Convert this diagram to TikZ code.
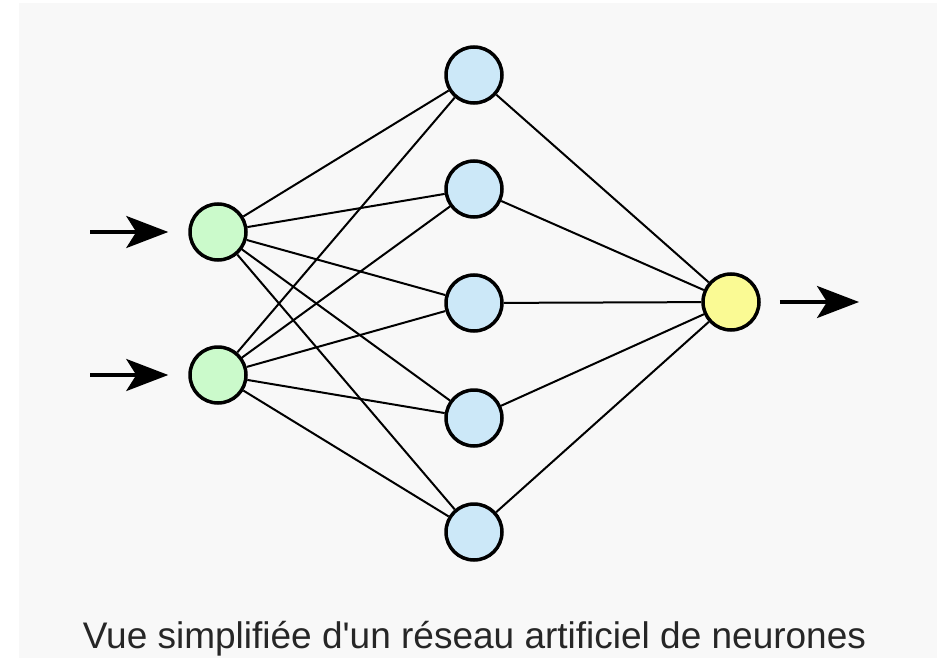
\documentclass[tikz,border=0pt]{standalone}
\usepackage{fontspec}
\setmainfont{Liberation Sans}
\usetikzlibrary{arrows.meta}
\definecolor{bggray}{HTML}{F8F8F8}
\definecolor{ingreen}{HTML}{CBFACB}
\definecolor{hidblue}{HTML}{CCE8F8}
\definecolor{outyellow}{HTML}{FAFA94}
\definecolor{textgray}{HTML}{262626}
\tikzset{
  neuron/.style={circle, draw=black, line width=3.5pt, minimum size=56pt, inner sep=0pt},
  inneuron/.style={neuron, fill=ingreen},
  hidneuron/.style={neuron, fill=hidblue},
  outneuron/.style={neuron, fill=outyellow},
  link/.style={line width=2pt, black},
  flow/.style={line width=3.5pt, black, -{Stealth[length=42pt, width=32pt, inset=10pt]}},
}
\begin{document}
\begin{tikzpicture}[x=1pt, y=-1pt]
\useasboundingbox (0,0) rectangle (942,658);
\fill[white] (0,0) rectangle (942,658);
\fill[bggray] (19,3) rectangle (937,658);

\node[inneuron] (i1) at (218,232) {};
\node[inneuron] (i2) at (218,375) {};

\node[hidneuron] (h1) at (474,75) {};
\node[hidneuron] (h2) at (474,189) {};
\node[hidneuron] (h3) at (474,303) {};
\node[hidneuron] (h4) at (474,418) {};
\node[hidneuron] (h5) at (474,532) {};

\node[outneuron] (o) at (731,302) {};

\foreach \i in {i1,i2}{
  \foreach \h in {h1,h2,h3,h4,h5}{
    \draw[link] (\i) -- (\h);
  }
}
\foreach \h in {h1,h2,h3,h4,h5}{
  \draw[link] (\h) -- (o);
}

\coordinate (a1) at (90,232);
\coordinate (a2) at (90,375);
\coordinate (aout) at (859,302);
\draw[flow, shorten >=20pt] (a1) -- (i1);
\draw[flow, shorten >=20pt] (a2) -- (i2);
\draw[flow, shorten <=19pt] (o) -- (aout);

\node[anchor=base, text=textgray, font=\fontsize{37pt}{40pt}\selectfont, inner sep=0pt] (cap) at (474.5,648) {Vue simplifiée d\textquotesingle un réseau artificiel de neurones};
\end{tikzpicture}
\end{document}
